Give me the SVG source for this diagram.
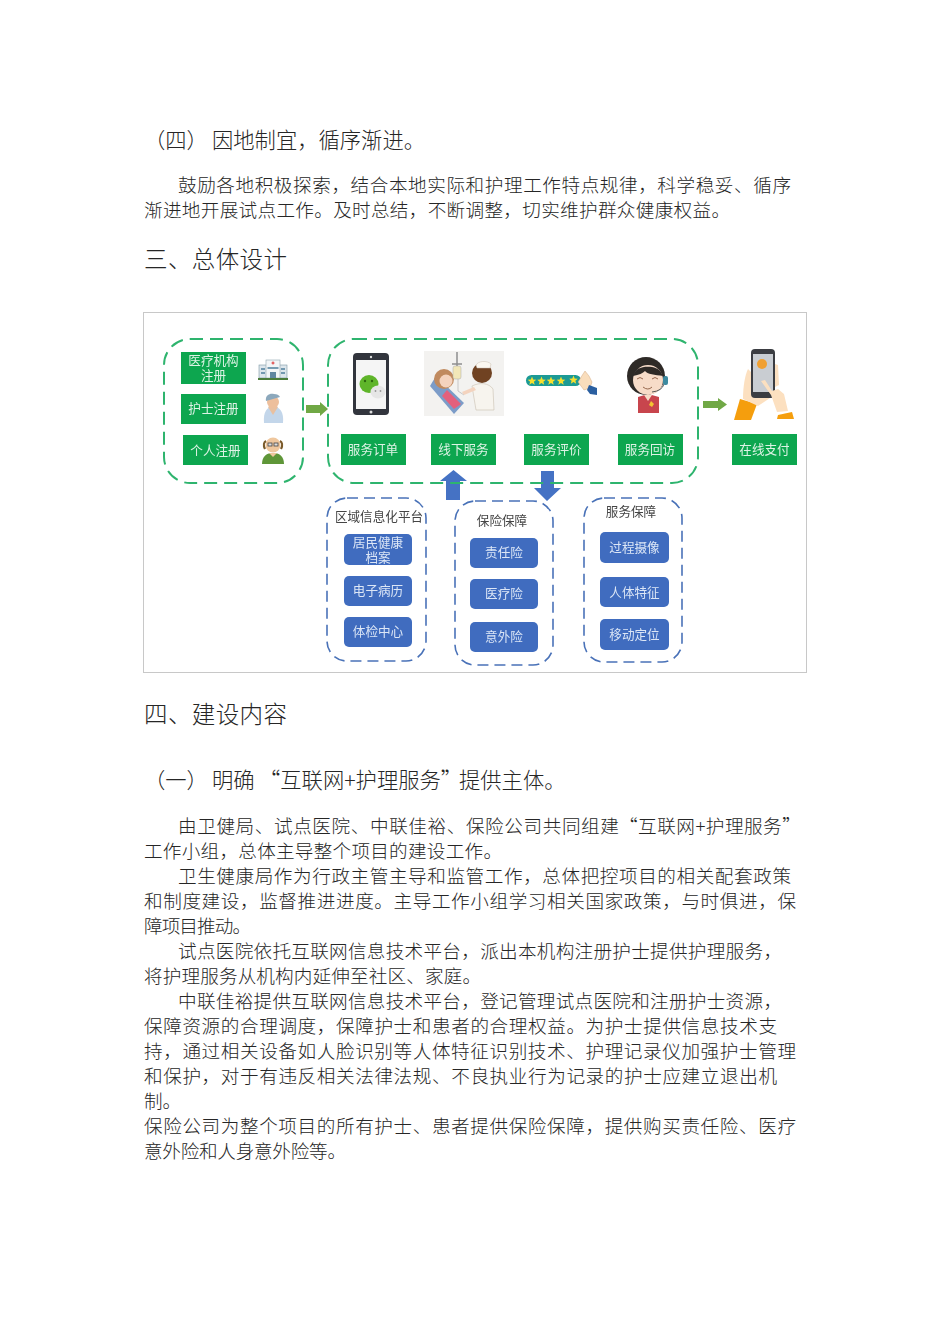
<svg xmlns="http://www.w3.org/2000/svg" width="950" height="1344" viewBox="0 0 950 1344">
<style>
text{font-family:"Noto Sans CJK SC","Noto Sans",sans-serif;fill:#262626}
.b{font-size:18.6px;font-weight:300}
.h{font-size:23.5px;font-weight:300}
.s{font-size:21.3px;font-weight:300}
.gd{fill:none;stroke:#2FB46E;stroke-width:2;stroke-dasharray:13 7}
.bd{fill:none;stroke:#4A72B8;stroke-width:1.6;stroke-dasharray:11 6}
.gb{fill:#0FA650}
.bb{fill:#3F6CBF}
.l{font-size:12.6px;fill:#DDF3E5;text-anchor:middle}
.lb{font-size:12.6px;fill:#DCE6F6;text-anchor:middle}
.t{font-size:12.6px;fill:#444;text-anchor:middle}
</style>
<defs>
<filter id="soft" x="-2%" y="-2%" width="104%" height="104%"><feGaussianBlur stdDeviation="0.5"/></filter>
<polygon id="star" points="0,-4.400 1.200,-1.400 4.300,-1.300 1.900,.7 2.700,3.700 0,2 -2.700,3.700 -1.900,.7 -4.300,-1.300 -1.200,-1.400" fill="#F7DF2E"/>
</defs>
<rect width="950" height="1344" fill="#fff"/>
<g id="text-top">
<text class="s" y="148"><tspan x="144">（四）</tspan><tspan x="212">因地制宜，循序渐进。</tspan></text>
<text class="b" x="178" y="192" textLength="613">鼓励各地积极探索，结合本地实际和护理工作特点规律，科学稳妥、循序</text>
<text class="b" x="144" y="217" textLength="586">渐进地开展试点工作。及时总结，不断调整，切实维护群众健康权益。</text>
<text class="h" x="144" y="268" textLength="143">三、总体设计</text>
</g>
<rect x="143.500" y="312.500" width="663" height="360" fill="#fff" stroke="#C8C8C8"/>
<g filter="url(#soft)">
<g id="connectors">
<path d="M306 405h14v-3l8 7-8 7v-3h-14z" fill="#70A845"/>
<path d="M703 401h15v-3l9 6.500-9 6.500v-3h-15z" fill="#70A845"/>
<path d="M446 500v-19h-6l13.500-11 13.500 11h-7v19z" fill="#4472C4"/>
<path d="M541 471h13v17h7l-14 13-13-13h7z" fill="#4472C4"/>
</g>
<g id="group-register"><rect class="gd" x="164" y="339" width="139" height="144" rx="26"/></g>
<g id="group-service"><rect class="gd" x="328" y="339" width="370" height="144" rx="26"/></g>
<g id="group-region"><rect class="bd" x="327" y="498" width="99" height="163" rx="20"/></g>
<g id="group-insurance"><rect class="bd" x="455" y="501" width="98" height="164" rx="20"/></g>
<g id="group-guarantee"><rect class="bd" x="584" y="498" width="98" height="164" rx="20"/></g>

<g id="n-hospital-reg"><rect class="gb" x="181" y="352" width="65" height="32"/><text class="l"><tspan x="213.500" y="365">医疗机构</tspan><tspan x="213.500" y="380">注册</tspan></text></g>
<g id="n-nurse-reg"><rect class="gb" x="181" y="394" width="65" height="30"/><text class="l" x="213.500" y="413">护士注册</text></g>
<g id="n-person-reg"><rect class="gb" x="183" y="435" width="65" height="30"/><text class="l" x="215.500" y="455">个人注册</text></g>

<g id="icon-hospital">
<rect x="259" y="365" width="28" height="13" fill="#DDE6EC" stroke="#7E97A5" stroke-width=".6"/>
<rect x="266" y="360" width="14" height="18" fill="#F2F5F7" stroke="#8FA5B0" stroke-width=".6"/>
<path d="M271.500 363h3M273 361.500v3" stroke="#D33" stroke-width="1"/>
<path d="M261 369h4M261 373h4M281 369h4M281 373h4M267.500 368h11" stroke="#4F7F9C" stroke-width="1.500"/>
<rect x="270" y="372" width="6" height="6" fill="#5E86A0"/>
<path d="M258 379h30" stroke="#4B7B3A" stroke-width="2"/>
</g>
<g id="icon-nurse">
<path d="M264 423c-1-11 3-16 9-17 7 1 11 6 10 17z" fill="#C3D6EA"/>
<path d="M268 407l5 8 5-8-5-3z" fill="#E8C0A0"/>
<circle cx="273" cy="402" r="6" fill="#EDBF9C"/>
<path d="M266 401c-1-6 4-8 8-7 3 0 5 1 6 3z" fill="#8CA8BC"/>
</g>
<g id="icon-patient">
<path d="M262 464c0-8 5-11 11-11s11 3 11 11z" fill="#5E9638"/>
<path d="M269 453l4 4 4-4z" fill="#EFC79E"/>
<circle cx="273" cy="445" r="7.500" fill="#EFC79E"/>
<path d="M265 449c-2-4-1-7 1-8M281 449c2-4 1-7-1-8" stroke="#7A5A2A" stroke-width="2.200" fill="none"/>
<rect x="268" y="443" width="4" height="3" fill="#DDD" stroke="#444" stroke-width=".8"/>
<rect x="274" y="443" width="4" height="3" fill="#DDD" stroke="#444" stroke-width=".8"/>
</g>

<g id="icon-phone">
<rect x="353" y="353" width="36" height="62" rx="4" fill="#30343C"/>
<rect x="356" y="360" width="30" height="49" fill="#F5F5F5"/>
<circle cx="371" cy="357" r="1.200" fill="#ddd"/><circle cx="371" cy="412" r="1.500" fill="#ddd"/>
<ellipse cx="369" cy="384" rx="9.500" ry="9" fill="#5FB52C"/>
<circle cx="365" cy="381" r="1.200" fill="#2E6A10"/><circle cx="372" cy="381" r="1.200" fill="#2E6A10"/>
<ellipse cx="378" cy="392" rx="7.500" ry="6.500" fill="#E6E6E6"/>
<circle cx="375.500" cy="391" r=".9" fill="#999"/><circle cx="380.500" cy="391" r=".9" fill="#999"/>
</g>
<g id="icon-care">
<rect x="424" y="351" width="80" height="65" fill="#F3F2F0"/>
<path d="M436 376l28 27-10 11-24-28z" fill="#7C9CC8"/>
<circle cx="444" cy="379" r="10" fill="#C08A5E"/>
<circle cx="446" cy="381" r="6.500" fill="#F4D3BE"/>
<path d="M447 390l14 14-7 5-12-13z" fill="#E4607C"/>
<path d="M457 352v24M452 364h10" stroke="#8F8F8F" stroke-width="1.500"/>
<rect x="453" y="366" width="8" height="13" rx="2" fill="#F2E7B8" stroke="#AAA" stroke-width=".5"/>
<path d="M458 379l0 12 6 4" stroke="#BBB" stroke-width=".8" fill="none"/>
<circle cx="482" cy="373" r="10" fill="#6F4324"/>
<path d="M476 365c2-4 11-5 15-1l-1 4h-13z" fill="#FBF7F0" stroke="#C9BFB0" stroke-width=".5"/>
<path d="M472 386c8-4 17-3 21 3l1 21h-18z" fill="#F7F4EE" stroke="#C9BFB0" stroke-width=".6"/>
<path d="M462 392l12-5 2 3-12 5z" fill="#F4D3BE"/>
</g>
<g id="icon-rating">
<rect x="526" y="375" width="55" height="11" rx="5.500" fill="#1A9A95"/>
<use href="#star" x="532" y="381"/><use href="#star" x="541.500" y="381"/><use href="#star" x="551" y="381"/><use href="#star" x="561" y="381"/><use href="#star" x="573.500" y="380"/>
<path d="M578 382l5-8 2-3 4 5 3 6-2 6-6 2z" fill="#F9DDBC" stroke="#C89B70" stroke-width=".4"/>
<path d="M589 385l8 3v7l-7-1-3-4z" fill="#2C5FA0"/>
</g>
<g id="icon-agent">
<path d="M638 413v-16l10-3 11 3v16z" fill="#C8454E"/>
<path d="M644 395l4 6 4-6z" fill="#F7DCC8"/>
<path d="M651 401l3 3-2 3-3-2z" fill="#F4C430"/>
<ellipse cx="646" cy="376" rx="19" ry="19" fill="#2E2A28"/>
<ellipse cx="648" cy="380" rx="15" ry="15" fill="#F7DCC8"/>
<path d="M633 376c2-8 10-10 19-9 6 1 9 4 11 9-8-1-16-2-18-5-2 2-6 4-12 5z" fill="#2E2A28"/>
<path d="M637 379q3-3 6 0M652 379q3-3 6 0M643 387q5 4 9 0" stroke="#8A5A40" stroke-width=".9" fill="none"/>
<path d="M664 384q-2 7-12 8" stroke="#555" stroke-width="1" fill="none"/>
<rect x="663" y="376" width="5" height="9" rx="2" fill="#3E8AA0"/>
</g>
<g id="icon-pay">
<path d="M734 420l6-21 17 5-6 16z" fill="#F59E0B"/>
<path d="M743 399c0-12 2-24 5-30l8 8 14 21-12 8z" fill="#FCE0C0"/>
<rect x="751" y="349" width="24" height="49" rx="4" fill="#3A3D42"/>
<rect x="753" y="354" width="20" height="38" fill="#C9CDD2"/>
<circle cx="762" cy="364" r="5" fill="#F0A030"/>
<path d="M761 381l4-1 7 11 6-2 6 5 4 17-11 1-6-17z" fill="#FCE0C0"/>
<path d="M775 364l3 1 1 20-4 2z" fill="#FCE0C0"/>
<path d="M777 419l1-4 14-3 2 7z" fill="#F59E0B"/>
</g>

<g id="n-order"><rect class="gb" x="341" y="434" width="65" height="31"/><text class="l" x="373" y="454">服务订单</text></g>
<g id="n-offline"><rect class="gb" x="431" y="434" width="65" height="31"/><text class="l" x="463.500" y="454">线下服务</text></g>
<g id="n-rate"><rect class="gb" x="524" y="434" width="65" height="31"/><text class="l" x="556.500" y="454">服务评价</text></g>
<g id="n-visit"><rect class="gb" x="618" y="434" width="65" height="31"/><text class="l" x="650" y="454">服务回访</text></g>
<g id="n-pay"><rect class="gb" x="732" y="434" width="65" height="31"/><text class="l" x="764.500" y="454">在线支付</text></g>

<text class="t" x="379" y="521">区域信息化平台</text>
<text class="t" x="502" y="525">保险保障</text>
<text class="t" x="631" y="516">服务保障</text>

<g id="n-record"><rect class="bb" x="344" y="534" width="68" height="31" rx="5"/><text class="lb"><tspan x="378" y="547">居民健康</tspan><tspan x="378" y="562">档案</tspan></text></g>
<g id="n-emr"><rect class="bb" x="344" y="576" width="68" height="30" rx="5"/><text class="lb" x="378" y="595">电子病历</text></g>
<g id="n-exam"><rect class="bb" x="344" y="617" width="68" height="30" rx="5"/><text class="lb" x="378" y="636">体检中心</text></g>
<g id="n-liability"><rect class="bb" x="470" y="538" width="68" height="30" rx="5"/><text class="lb" x="504" y="557">责任险</text></g>
<g id="n-medical"><rect class="bb" x="470" y="579" width="68" height="30" rx="5"/><text class="lb" x="504" y="598">医疗险</text></g>
<g id="n-accident"><rect class="bb" x="470" y="622" width="68" height="30" rx="5"/><text class="lb" x="504" y="641">意外险</text></g>
<g id="n-video"><rect class="bb" x="600" y="532" width="69" height="31" rx="5"/><text class="lb" x="634.500" y="552">过程摄像</text></g>
<g id="n-biometric"><rect class="bb" x="600" y="577" width="69" height="30" rx="5"/><text class="lb" x="634.500" y="597">人体特征</text></g>
<g id="n-location"><rect class="bb" x="600" y="619" width="69" height="31" rx="5"/><text class="lb" x="634.500" y="639">移动定位</text></g>
</g>
<g id="text-bottom">
<text class="h" x="144" y="723" textLength="143">四、建设内容</text>
<text class="s" y="788"><tspan x="144">（一）</tspan><tspan x="212">明确</tspan><tspan x="259">“互联网+护理服务”</tspan><tspan x="459">提供主体。</tspan></text>
<text class="b" y="833"><tspan x="178" letter-spacing=".6">由卫健局、试点医院、中联佳裕、保险公司共同组建</tspan><tspan x="619" letter-spacing=".5">“互联网+护理服务”</tspan></text>
<text class="b" x="144" y="858" textLength="358">工作小组，总体主导整个项目的建设工作。</text>
<text class="b" x="178" y="883" textLength="613">卫生健康局作为行政主管主导和监管工作，总体把控项目的相关配套政策</text>
<text class="b" x="144" y="908" textLength="652">和制度建设，监督推进进度。主导工作小组学习相关国家政策，与时俱进，保</text>
<text class="b" x="144" y="933" textLength="107">障项目推动。</text>
<text class="b" x="178" y="958" textLength="604">试点医院依托互联网信息技术平台，派出本机构注册护士提供护理服务，</text>
<text class="b" x="144" y="983" textLength="337">将护理服务从机构内延伸至社区、家庭。</text>
<text class="b" x="178" y="1008" textLength="604">中联佳裕提供互联网信息技术平台，登记管理试点医院和注册护士资源，</text>
<text class="b" x="144" y="1033" textLength="633">保障资源的合理调度，保障护士和患者的合理权益。为护士提供信息技术支</text>
<text class="b" x="144" y="1058" textLength="652">持，通过相关设备如人脸识别等人体特征识别技术、护理记录仪加强护士管理</text>
<text class="b" x="144" y="1083" textLength="633">和保护，对于有违反相关法律法规、不良执业行为记录的护士应建立退出机</text>
<text class="b" x="144" y="1108">制。</text>
<text class="b" x="144" y="1133" textLength="652">保险公司为整个项目的所有护士、患者提供保险保障，提供购买责任险、医疗</text>
<text class="b" x="144" y="1158" textLength="202">意外险和人身意外险等。</text>
</g>
</svg>
